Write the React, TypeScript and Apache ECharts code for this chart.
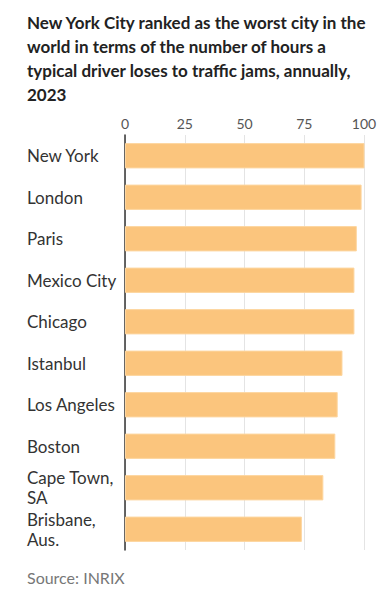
import React, { useEffect, useRef } from "react";
import * as echarts from "echarts";

const titleLines = [
  "New York City ranked as the worst city in the",
  "world in terms of the number of hours a",
  "typical driver loses to traffic jams, annually,",
  "2023",
];
const cities = [
  "New York",
  "London",
  "Paris",
  "Mexico City",
  "Chicago",
  "Istanbul",
  "Los Angeles",
  "Boston",
  "Cape Town,\nSA",
  "Brisbane,\nAus.",
];
const hoursLost = [101, 99, 97, 96, 96, 91, 89, 88, 83, 74];
const xTicks = [0, 25, 50, 75, 100];
const sourceText = "Source: INRIX";

export default function App() {
  const ref = useRef<HTMLDivElement>(null);
  useEffect(() => {
    if (!ref.current) return;
    const chart = echarts.init(ref.current, null, { renderer: "svg" });
    const font = "Lato";
    chart.setOption({
      animation: false,
      backgroundColor: "#ffffff",
      title: {
        text: titleLines.join("\n"),
        left: 19,
        top: 2,
        padding: 0,
        textStyle: {
          fontFamily: font,
          fontWeight: "bold",
          fontSize: 17,
          lineHeight: 24,
          color: "#222222",
        },
      },
      graphic: [
        {
          type: "text",
          left: 19,
          top: 561,
          style: {
            text: sourceText,
            fontFamily: font,
            fontSize: 16,
            fill: "#777777",
          },
        },
      ],
      grid: { left: 117, right: 17, top: 127, bottom: 48, containLabel: false },
      xAxis: {
        type: "value",
        position: "top",
        min: 0,
        max: 100,
        interval: 25,
        axisLine: { show: false },
        axisTick: { show: false },
        splitLine: { show: true, lineStyle: { color: "#e4e4e4", width: 1 } },
        axisLabel: {
          margin: 5,
          fontFamily: font,
          fontSize: 14,
          color: "#555555",
          formatter: (v: number) => (xTicks.includes(v) ? String(v) : ""),
        },
      },
      yAxis: {
        type: "category",
        inverse: true,
        data: cities,
        axisLine: { show: true, lineStyle: { color: "#333333", width: 1.5 } },
        axisTick: { show: false },
        axisLabel: {
          align: "left",
          margin: 98,
          fontFamily: font,
          fontSize: 17,
          lineHeight: 20,
          color: "#333333",
        },
      },
      series: [
        {
          type: "bar",
          data: hoursLost,
          barCategoryGap: "39%",
          itemStyle: { color: "#FBC57D", borderColor: "#FDD6A0", borderWidth: 1 },
        },
      ],
    });
    return () => chart.dispose();
  }, []);
  return <div ref={ref} style={{ width: 373, height: 590 }} />;
}
